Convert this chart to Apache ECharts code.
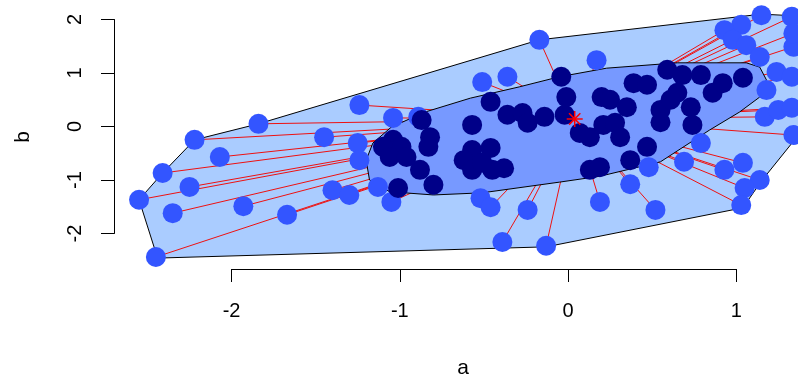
<!DOCTYPE html>
<html>
<head>
<meta charset="utf-8">
<script src="https://cdn.jsdelivr.net/npm/echarts@6/dist/echarts.min.js"></script>
<style>
html, body { margin: 0; padding: 0; background: #fff; }
#box { width: 798px; height: 380px; }
</style>
</head>
<body>
<div id="box"></div>
<script>
// bagplot of b against a
const center = [0.04, 0.14]

const loopHull = [
  [-2.55, -1.37], [-2.41, -0.87], [-2.22, -0.25], [-1.84, 0.05], [-0.17, 1.62],
  [1.15, 2.10], [1.34, 2.07], [1.50, 1.95], [1.50, 0.12], [1.36, -0.20],
  [1.15, -1.02], [1.04, -1.52], [-0.13, -2.25], [-2.44, -2.46]
]

const bagHull = [
  [-1.20, -0.63], [-1.16, -0.31], [-1.05, -0.01], [-0.85, 0.27], [-0.58, 0.53],
  [-0.29, 0.74], [-0.05, 0.93], [0.23, 1.09], [0.65, 1.19], [1.06, 1.19],
  [1.14, 1.11], [1.18, 0.87], [1.14, 0.55], [1.02, 0.27], [0.84, -0.07],
  [0.55, -0.66], [0.19, -0.93], [-0.05, -1.04], [-0.51, -1.24], [-0.80, -1.28],
  [-1.06, -1.22], [-1.18, -1.00]
]

const loopPoints = [
  [-1.84, 0.05], [-2.22, -0.25], [-1.45, -0.20], [-2.07, -0.57], [-2.41, -0.87],
  [-2.25, -1.13], [-2.55, -1.37], [-2.35, -1.62], [-1.93, -1.49], [-1.67, -1.65],
  [-1.40, -1.19], [-1.30, -1.28], [-2.45, -2.44], [-1.24, 0.40], [-1.04, 0.16],
  [-0.89, 0.18], [-1.25, -0.31], [-1.24, -0.63], [-1.13, -1.13], [-1.05, -1.41],
  [-0.51, 0.83], [-0.36, 0.93], [-0.17, 1.62], [-0.52, -1.34], [-0.46, -1.51],
  [-0.24, -1.56], [-0.39, -2.16], [-0.13, -2.23], [0.17, 1.24], [1.15, 2.08],
  [1.33, 2.05], [1.03, 1.90], [0.93, 1.80], [0.98, 1.62], [1.06, 1.52],
  [1.14, 1.30], [1.34, 1.49], [1.34, 1.74], [1.24, 1.02], [1.33, 0.93],
  [1.18, 0.68], [1.17, 0.18], [1.25, 0.31], [1.33, 0.35], [1.34, -0.16],
  [0.19, -1.41], [0.52, -1.56], [0.37, -1.08], [0.48, -0.76], [0.79, -0.31],
  [0.69, -0.66], [0.93, -0.81], [1.04, -0.68], [1.14, -1.00], [1.05, -1.15],
  [1.03, -1.47]
]

const bagPoints = [
  [-0.87, 0.12], [-1.04, -0.25], [-0.99, -0.38], [-1.10, -0.38], [-1.06, -0.57],
  [-0.96, -0.57], [-0.82, -0.20], [-0.83, -0.38], [-0.88, -0.81], [-1.01, -1.15],
  [-0.80, -1.09], [-0.57, 0.03], [-0.46, 0.46], [-0.36, 0.22], [-0.27, 0.25],
  [-0.24, 0.07], [-0.14, 0.18], [-0.02, 0.22], [-0.01, 0.55], [-0.04, 0.93],
  [-0.57, -0.44], [-0.46, -0.40], [-0.62, -0.63], [-0.57, -0.81], [-0.45, -0.81],
  [-0.38, -0.78], [-0.51, -0.68], [0.07, -0.12], [0.13, -0.20], [0.21, 0.03],
  [0.28, 0.07], [0.31, -0.20], [0.20, 0.55], [0.25, 0.50], [0.35, 0.36],
  [0.39, 0.81], [0.47, 0.78], [0.55, 0.31], [0.59, 1.06], [0.68, 0.96],
  [0.79, 0.96], [0.65, 0.63], [0.73, 0.36], [0.74, 0.03], [0.86, 0.63],
  [0.92, 0.81], [1.04, 0.91], [0.13, -0.81], [0.19, -0.76], [0.37, -0.63],
  [0.47, -0.38], [0.61, 0.50], [0.55, 0.08]
]

const xTicks = [-2, -1, 0, 1]
const yTicks = [-2, -1, 0, 1, 2]
const xName = 'a'
const yName = 'b'

const font = 'Liberation Sans, Arial, sans-serif'
const chart = echarts.init(document.getElementById('box'))

function hull(pts, fill) {
  return {
    type: 'custom',
    xAxisIndex: 0,
    yAxisIndex: 0,
    silent: true,
    data: [0],
    renderItem: (params, api) => ({
      type: 'polygon',
      shape: { points: pts.map(p => api.coord(p)) },
      style: { fill: fill, stroke: '#000', lineWidth: 1 }
    })
  }
}

chart.setOption({
  animation: false,
  grid: [
    // plot region runs past the right edge of the picture
    { left: 114, top: 9, right: 0, height: 260 },
    { left: 231.6, top: 268, width: 504.6, height: 1 },
    { left: 114, top: 19.5, width: 1, height: 214 }
  ],
  xAxis: [
    { gridIndex: 0, type: 'value', min: -2.699, max: 1.3675, show: false },
    {
      gridIndex: 1,
      type: 'value',
      min: xTicks[0],
      max: xTicks[xTicks.length - 1],
      interval: 1,
      position: 'bottom',
      axisLine: { onZero: false, lineStyle: { color: '#000', width: 1 } },
      axisTick: { length: 13, lineStyle: { color: '#000' } },
      axisLabel: { fontSize: 20, color: '#000', fontFamily: font, margin: 32 },
      splitLine: { show: false }
    },
    { gridIndex: 2, type: 'value', show: false }
  ],
  yAxis: [
    { gridIndex: 0, type: 'value', min: -2.664, max: 2.196, show: false },
    { gridIndex: 1, type: 'value', show: false },
    {
      gridIndex: 2,
      type: 'value',
      min: yTicks[0],
      max: yTicks[yTicks.length - 1],
      interval: 1,
      position: 'left',
      axisLine: { show: true, onZero: false, lineStyle: { color: '#000', width: 1 } },
      axisTick: { show: true, length: 13, lineStyle: { color: '#000' } },
      axisLabel: { fontSize: 20, color: '#000', fontFamily: font, rotate: 90, margin: 29 },
      splitLine: { show: false }
    }
  ],
  graphic: [
    {
      type: 'text', x: 463, y: 368,
      style: { text: xName, fontSize: 21, fill: '#000', fontFamily: font, align: 'center', verticalAlign: 'middle' }
    },
    {
      type: 'text', x: 23, y: 137, rotation: Math.PI / 2,
      style: { text: yName, fontSize: 21, fill: '#000', fontFamily: font, align: 'center', verticalAlign: 'middle' }
    }
  ],
  series: [
    hull(loopHull, '#aaccff'),
    {
      type: 'custom',
      xAxisIndex: 0,
      yAxisIndex: 0,
      silent: true,
      data: loopPoints,
      renderItem: (params, api) => {
        const c = api.coord(center)
        const p = api.coord([api.value(0), api.value(1)])
        return {
          type: 'line',
          shape: { x1: c[0], y1: c[1], x2: p[0], y2: p[1] },
          style: { stroke: '#ee1111', lineWidth: 1 }
        }
      }
    },
    hull(bagHull, '#7799ff'),
    {
      type: 'scatter',
      xAxisIndex: 0,
      yAxisIndex: 0,
      data: loopPoints,
      symbolSize: 20,
      itemStyle: { color: '#3355ff', opacity: 1 }
    },
    {
      type: 'scatter',
      xAxisIndex: 0,
      yAxisIndex: 0,
      data: bagPoints,
      symbolSize: 20,
      itemStyle: { color: '#000088', opacity: 1 }
    },
    {
      type: 'custom',
      xAxisIndex: 0,
      yAxisIndex: 0,
      silent: true,
      z: 5,
      data: [center],
      renderItem: (params, api) => {
        const c = api.coord([api.value(0), api.value(1)])
        const r = 8
        const d = r * 0.707
        const seg = (x1, y1, x2, y2) => ({
          type: 'line',
          shape: { x1: c[0] + x1, y1: c[1] + y1, x2: c[0] + x2, y2: c[1] + y2 },
          style: { stroke: '#ff0000', lineWidth: 1.5 }
        })
        return {
          type: 'group',
          children: [seg(-r, 0, r, 0), seg(0, -r, 0, r), seg(-d, -d, d, d), seg(-d, d, d, -d)]
        }
      }
    }
  ]
})
</script>
</body>
</html>
